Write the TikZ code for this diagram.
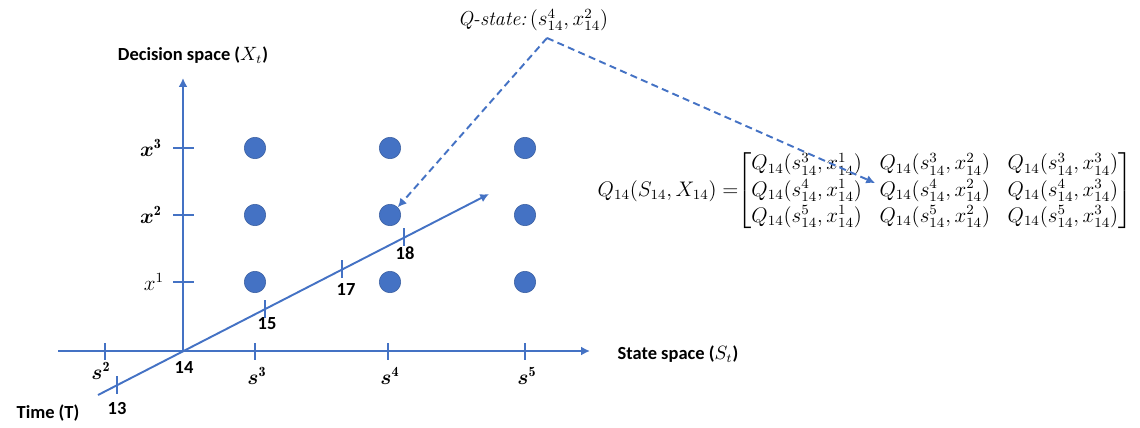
\documentclass[tikz,border=0pt]{standalone}
\usepackage{amsmath}
\usepackage{fontspec}
\newfontfamily\labelfont{Carlito}
\usetikzlibrary{arrows.meta, positioning}
\definecolor{axisblue}{HTML}{4472C4}
\tikzset{
  x=0.02cm, y=-0.02cm, % one unit is one pixel of the sketch
  axis/.style={draw=axisblue, line width=1.1pt, -{Latex[length=5pt,width=5pt]}}, % the
  % three axes
  tickmark/.style={draw=axisblue, line width=1.1pt}, % small marks on the axes
  dot/.style={circle, fill=axisblue, draw=axisblue!80!black, line width=0.3pt,
  minimum size=0.43cm, inner sep=0pt}, % one state/decision pair
  qlink/.style={draw=axisblue, line width=1.1pt, dash pattern=on 4pt off 2.5pt,
  -{Latex[length=5pt,width=5pt]}}, % pointer from the Q-state
  axislabel/.style={font=\labelfont\bfseries\fontsize{10.5}{12}\selectfont}, % words
  ticklabel/.style={font=\labelfont\bfseries\fontsize{10.5}{12}\selectfont}, % numbers
}

\begin{document}
\begin{tikzpicture}
    \useasboundingbox (0,0) rectangle (1140,427);

    % axes
    \coordinate (o) at (183,351);
    \coordinate (hstart) at (58,351);
    \coordinate (hend) at (590,351);
    \coordinate (vend) at (183,78);
    \coordinate (tstart) at (98,395);
    \coordinate (tend) at (489,194);
    \draw[axis] (hstart) -- (hend);
    \draw[axis] (o) -- (vend);
    \draw[axis] (tstart) -- (tend);

    \node[axislabel] (decision) at (193,55) {Decision space ($X_t$)};
    \node[axislabel] (state) at (678,354) {State space ($S_t$)};
    \node[axislabel] (time) at (48,413) {Time (T)};

    % decisions
    \draw[tickmark] (173,148) -- (194,148);
    \draw[tickmark] (173,215) -- (194,215);
    \draw[tickmark] (173,282) -- (194,282);
    \node[font=\fontsize{12}{14}\selectfont] (x3) at (151,148) {$\boldsymbol{x}^{\mathbf{3}}$};
    \node[font=\fontsize{12}{14}\selectfont] (x2) at (151,215) {$\boldsymbol{x}^{\mathbf{2}}$};
    \node[font=\fontsize{12}{14}\selectfont] (x1) at (154,282) {$x^1$};

    % states
    \foreach \sx/\sn in {105/2,255/3,388/4,525/5} {
      \draw[tickmark] (\sx,343) -- (\sx,360);
    }
    \node[font=\fontsize{12}{14}\selectfont] (s2) at (101,371) {$\boldsymbol{s}^{\mathbf{2}}$};
    \node[font=\fontsize{12}{14}\selectfont] (s3) at (257,376) {$\boldsymbol{s}^{\mathbf{3}}$};
    \node[font=\fontsize{12}{14}\selectfont] (s4) at (390,376) {$\boldsymbol{s}^{\mathbf{4}}$};
    \node[font=\fontsize{12}{14}\selectfont] (s5) at (527,376) {$\boldsymbol{s}^{\mathbf{5}}$};

    % time steps
    \foreach \tx/\ty in {117/385,265/309,342/269,404/237} {
      \draw[tickmark] (\tx,\ty-9) -- (\tx,\ty+9);
    }
    \node[ticklabel] (t13) at (117,409) {13};
    \node[ticklabel] (t14) at (184,368) {14};
    \node[ticklabel] (t15) at (267,324) {15};
    \node[ticklabel] (t17) at (346,290) {17};
    \node[ticklabel] (t18) at (405,253) {18};

    % state/decision pairs
    \foreach \cx in {255,390,525} {
      \foreach \cy in {148,215,282} {
        \node[dot] (d-\cx-\cy) at (\cx,\cy) {};
      }
    }

    % Q-state and Q-table
    \node[font=\fontsize{11.5}{13}\selectfont] (qstate) at (533,20)
      {\textit{Q-state:}\,$(s^4_{14}, x^2_{14})$};
    \coordinate (apex) at (547,38);
    \node[font=\fontsize{11.6}{13}\selectfont] (qtable) at (865,191)
      {\renewcommand{\arraystretch}{1.15}$Q_{14}(S_{14},X_{14})
      =\!\!\begin{bmatrix}
        Q_{14}(s^3_{14},x^1_{14}) & Q_{14}(s^3_{14},x^2_{14}) & Q_{14}(s^3_{14},x^3_{14})\\
        Q_{14}(s^4_{14},x^1_{14}) & Q_{14}(s^4_{14},x^2_{14}) & Q_{14}(s^4_{14},x^3_{14})\\
        Q_{14}(s^5_{14},x^1_{14}) & Q_{14}(s^5_{14},x^2_{14}) & Q_{14}(s^5_{14},x^3_{14})
      \end{bmatrix}$};
    \coordinate (qentry) at (875,183);

    \draw[qlink] (apex) -- (d-390-215.north east);
    \draw[qlink] (apex) -- (qentry);
\end{tikzpicture}
\end{document}
